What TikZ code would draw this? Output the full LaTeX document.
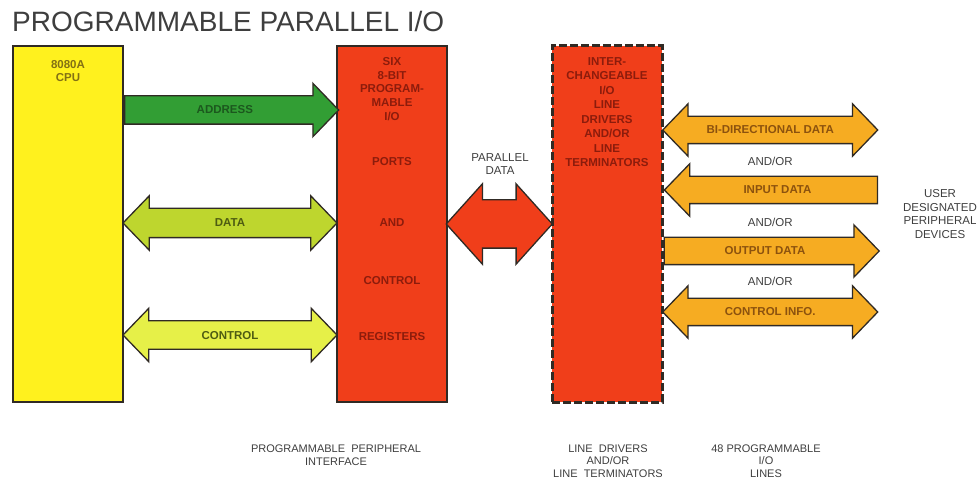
\documentclass[tikz,border=0pt]{standalone}
\usepackage{fontspec}
\setmainfont{Liberation Sans}
\usetikzlibrary{shapes.arrows,calc,positioning}

\definecolor{cpuYellow}{RGB}{255,241,30}
\definecolor{portRed}{RGB}{240,62,26}
\definecolor{addrGreen}{RGB}{50,158,52}
\definecolor{dataLime}{RGB}{190,214,46}
\definecolor{ctrlLime}{RGB}{230,240,72}
\definecolor{ioOrange}{RGB}{246,172,34}
\definecolor{edgeDark}{RGB}{48,42,36}
\definecolor{labelGray}{RGB}{62,62,62}
\definecolor{redText}{RGB}{140,28,12}
\definecolor{greenText}{RGB}{28,88,30}
\definecolor{limeText}{RGB}{78,92,18}
\definecolor{orangeText}{RGB}{140,82,14}
\definecolor{cpuText}{RGB}{130,112,20}

\begin{document}
\begin{tikzpicture}[x=1pt, y=-1pt,
    every node/.style={font=\fontsize{11.5}{13.6}\selectfont, text=labelGray, align=center},
    chip/.style={draw=edgeDark, line width=2pt, minimum width=110pt, minimum height=356pt, inner sep=0pt},
    boxText/.style={font=\bfseries\fontsize{11.5}{13.8}\selectfont, inner sep=0pt},
    caption/.style={font=\fontsize{11}{12.5}\selectfont, inner sep=0pt},
    busArrow/.style={single arrow, draw=edgeDark, line width=1.3pt, text height=8pt, text depth=0pt,
        inner xsep=0pt, inner ysep=9.5pt, single arrow head extend=12.5pt, minimum width=52pt,
        single arrow tip angle=92, font=\bfseries\fontsize{11.5}{11.5}\selectfont},
    busDouble/.style={double arrow, draw=edgeDark, line width=1.3pt, text height=8pt, text depth=0pt,
        inner xsep=0pt, inner ysep=9.5pt, double arrow head extend=12.5pt, minimum width=52pt,
        double arrow tip angle=92, font=\bfseries\fontsize{11.5}{11.5}\selectfont},
    ioArrow/.style={busArrow, fill=ioOrange, text=orangeText, inner ysep=9pt},
    ioDouble/.style={busDouble, fill=ioOrange, text=orangeText, inner ysep=9pt, minimum height=\ioLen}
  ]

    % Sizes
    \def\busLen{214pt}   % CPU to ports
    \def\ioLen{215pt}    % drivers to devices

    \useasboundingbox (0,0) rectangle (978,481);

    % Title
    \node[anchor=base west, inner sep=0pt, font=\fontsize{28}{28}\selectfont, text=labelGray] (title) at (12,32) {PROGRAMMABLE PARALLEL I/O};

    % The three blocks
    \node[chip, fill=cpuYellow] (cpu) at (68,224) {};
    \node[chip, fill=portRed] (ppi) at (392,224) {};
    \node[chip, fill=portRed, dash pattern=on 8pt off 3pt, line width=3pt] (drivers) at (607,224) {};

    \node[boxText, text=cpuText] (cpuName) at (cpu |- 0,71) {8080A\\CPU};

    \node[boxText, text=redText] (ppiTop) at (ppi |- 0,89) {SIX\\8-BIT\\PROGRAM-\\MABLE\\I/O};
    \node[boxText, text=redText] (ppiPorts) at (ppi |- 0,162) {PORTS};
    \node[boxText, text=redText] (ppiAnd) at (ppi |- 0,223) {AND};
    \node[boxText, text=redText] (ppiCtrl) at (ppi |- 0,281) {CONTROL};
    \node[boxText, text=redText] (ppiRegs) at (ppi |- 0,337) {REGISTERS};

    \node[boxText, text=redText, font=\bfseries\fontsize{11.5}{14.5}\selectfont] (drvText) at (drivers |- 0,112) {INTER-\\CHANGEABLE\\I/O\\LINE\\DRIVERS\\AND/OR\\LINE\\TERMINATORS};

    % CPU side buses
    \coordinate (busMid) at ($(cpu.east)!0.5!(ppi.west)$);
    \node[busArrow, fill=addrGreen, text=greenText, anchor=tail, minimum height=\busLen] (addrBus) at (cpu.east |- 0,110) {ADDRESS};
    \node[busDouble, fill=dataLime, text=limeText, minimum height=\busLen, inner ysep=10pt] (dataBus) at (busMid |- 0,223) {DATA};
    \node[busDouble, fill=ctrlLime, text=limeText, minimum height=\busLen] (ctrlBus) at (busMid |- 0,335) {CONTROL};

    % Parallel data between the blocks
    \node[double arrow, draw=edgeDark, line width=1.3pt, fill=portRed, text height=0pt, text depth=0pt,
        inner xsep=0pt, inner ysep=23.5pt, double arrow head extend=16pt, minimum width=79pt,
        double arrow tip angle=96, minimum height=106pt] (parData) at ($(ppi.east)!0.5!(drivers.west)$) {};
    \node (parLabel) at (500,164) {PARALLEL\\DATA};

    % Peripheral side lines
    \coordinate (ioRight) at (877,223);
    \coordinate (ioMid) at ($(drivers.east)!0.5!(ioRight)$);
    \node[ioDouble] (bidirData) at (ioMid |- 0,130) {BI-DIRECTIONAL DATA};
    \node[ioArrow, shape border rotate=180, anchor=tip, minimum height=213pt] (inData) at (drivers.east |- 0,190) {INPUT DATA};
    \node[ioArrow, anchor=tail, minimum height=\ioLen] (outData) at (drivers.east |- 0,251) {OUTPUT DATA};
    \node[ioDouble] (ctrlInfo) at (ioMid |- 0,312) {CONTROL INFO.};

    \node (andOr1) at (ioMid |- 0,161) {AND/OR};
    \node (andOr2) at (ioMid |- 0,222) {AND/OR};
    \node (andOr3) at (ioMid |- 0,281) {AND/OR};

    \node (userDev) at (940,214) {USER\\DESIGNATED\\PERIPHERAL\\DEVICES};

    % Captions under the blocks
    \node[caption] (ppiCaption) at (336,455) {PROGRAMMABLE\ \ PERIPHERAL\\INTERFACE};
    \node[caption] (drvCaption) at (608,461) {LINE\ \ DRIVERS\\AND/OR\\LINE\ \ TERMINATORS};
    \node[caption] (ioCaption) at (766,461) {48 PROGRAMMABLE\\I/O\\LINES};

\end{tikzpicture}
\end{document}
